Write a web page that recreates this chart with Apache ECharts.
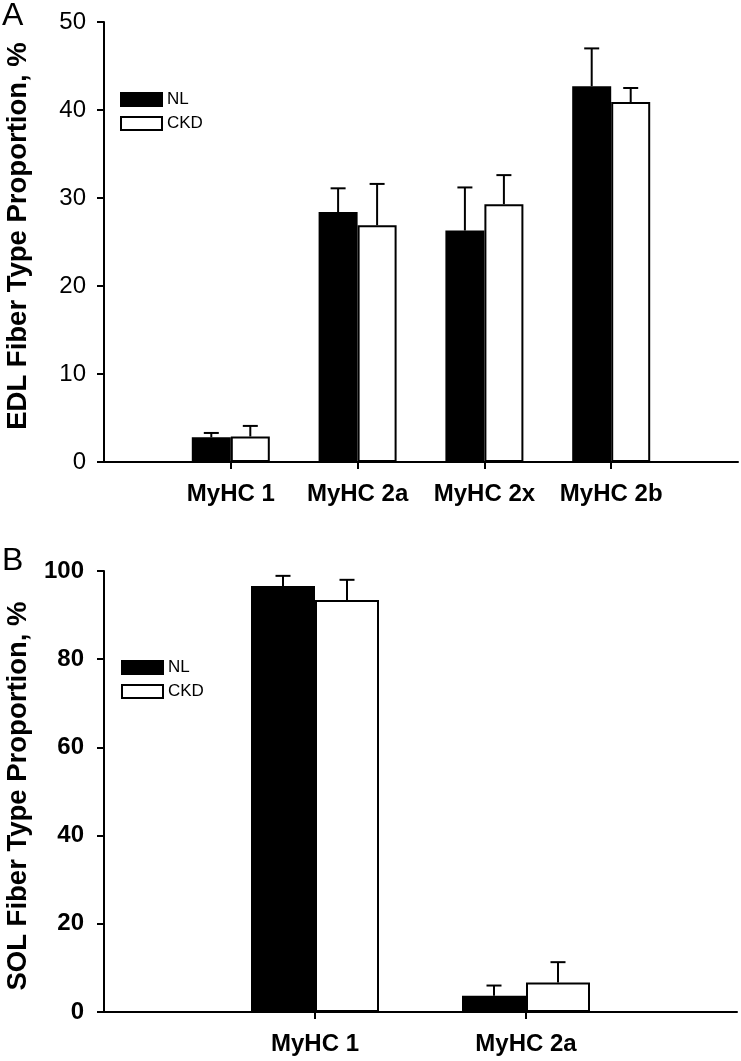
<!DOCTYPE html>
<html>
<head>
<meta charset="utf-8">
<script src="https://cdn.jsdelivr.net/npm/echarts@6/dist/echarts.min.js"></script>
<style>
  html, body { margin: 0; padding: 0; background: #fff; }
  #chart { width: 741px; height: 1061px; }
</style>
</head>
<body>
<div id="chart"></div>
<script>
// panel A: EDL
const edlCats = ['MyHC 1', 'MyHC 2a', 'MyHC 2x', 'MyHC 2b']
const edlNL = [2.8, 28.4, 26.3, 42.7]
const edlNLErr = [3.3, 31.1, 31.2, 47.0]
const edlCKD = [2.9, 26.9, 29.3, 40.9]
const edlCKDErr = [4.1, 31.6, 32.6, 42.5]
const edlTicks = [0, 10, 20, 30, 40, 50]

// panel B: SOL
const solCats = ['MyHC 1', 'MyHC 2a']
const solNL = [96.6, 3.7]
const solNLErr = [98.9, 6.0]
const solCKD = [93.4, 6.7]
const solCKDErr = [98.0, 11.3]
const solTicks = [0, 20, 40, 60, 80, 100]

const FONT = '"Liberation Sans", Arial, Helvetica, sans-serif'
const chart = echarts.init(document.getElementById('chart'))

const pos = (arr) => arr.map((_, i) => i + 1)
const pairs = (vals) => vals.map((v, i) => [i + 1, v])
const triples = (vals, errs) => vals.map((v, i) => [i + 1, v, errs[i]])

function errorBars(side, barW) {
  return function (params, api) {
    const p0 = api.coord([api.value(0), api.value(1)])
    const p1 = api.coord([api.value(0), api.value(2)])
    const x = p0[0] + side * barW / 2
    const st = { stroke: '#000', lineWidth: 2 }
    return {
      type: 'group',
      children: [
        { type: 'line', shape: { x1: x, y1: p0[1], x2: x, y2: p1[1] }, style: st },
        { type: 'line', shape: { x1: x - 7.5, y1: p1[1], x2: x + 7.5, y2: p1[1] }, style: st },
      ],
    }
  }
}

function xAxisFor(idx, cats, max) {
  return {
    gridIndex: idx,
    type: 'value',
    min: 0,
    max: max,
    interval: 1,
    splitLine: { show: false },
    axisLine: { lineStyle: { color: '#000', width: 2 } },
    axisTick: { customValues: pos(cats), length: 7, lineStyle: { color: '#000', width: 2 } },
    axisLabel: {
      customValues: pos(cats),
      formatter: (v) => cats[Math.round(v) - 1] || '',
      color: '#000', fontFamily: FONT, fontWeight: 'bold', fontSize: 24, margin: 20,
    },
  }
}

function yAxisFor(idx, ticks, bold) {
  return {
    gridIndex: idx,
    type: 'value',
    min: ticks[0],
    max: ticks[ticks.length - 1],
    interval: ticks[1] - ticks[0],
    splitLine: { show: false },
    axisLine: { show: true, lineStyle: { color: '#000', width: 2 } },
    axisTick: { show: true, length: 7, lineStyle: { color: '#000', width: 2 } },
    axisLabel: {
      color: '#000', fontFamily: FONT, fontSize: 24,
      fontWeight: bold ? 'bold' : 'normal', margin: bold ? 20 : 18,
    },
  }
}

function barSeries(idx, name, vals, fill, barW) {
  return {
    name: name,
    type: 'bar',
    xAxisIndex: idx,
    yAxisIndex: idx,
    data: pairs(vals),
    barWidth: barW,
    barGap: '0%',
    itemStyle: { color: fill, borderColor: '#000', borderWidth: 2 },
    z: 2,
  }
}

function errSeries(idx, vals, errs, side, barW) {
  return {
    type: 'custom',
    xAxisIndex: idx,
    yAxisIndex: idx,
    data: triples(vals, errs),
    renderItem: errorBars(side, barW),
    z: 3,
  }
}

function legendFor(left, top) {
  return {
    data: ['NL', 'CKD'],
    orient: 'vertical',
    left: left,
    top: top,
    icon: 'rect',
    itemWidth: 41,
    itemHeight: 13,
    itemGap: 7,
    selectedMode: false,
    textStyle: { color: '#000', fontFamily: FONT, fontSize: 17 },
  }
}

const titleStyle = { fill: '#000', font: 'bold 27.5px ' + FONT, textAlign: 'center', textVerticalAlign: 'middle' }

chart.setOption({
  animation: false,
  grid: [
    { left: 104, top: 22, right: 3, bottom: 599 },
    { left: 104, top: 571, right: 4, bottom: 49 },
  ],
  xAxis: [xAxisFor(0, edlCats, 5), xAxisFor(1, solCats, 3)],
  yAxis: [yAxisFor(0, edlTicks, false), yAxisFor(1, solTicks, true)],
  legend: [legendFor(115, 86), legendFor(116, 654)],
  series: [
    barSeries(0, 'NL', edlNL, '#000', 39),
    barSeries(0, 'CKD', edlCKD, '#fff', 39),
    errSeries(0, edlNL, edlNLErr, -1, 39),
    errSeries(0, edlCKD, edlCKDErr, 1, 39),
    barSeries(1, 'NL', solNL, '#000', 64),
    barSeries(1, 'CKD', solCKD, '#fff', 64),
    errSeries(1, solNL, solNLErr, -1, 64),
    errSeries(1, solCKD, solCKDErr, 1, 64),
  ],
  graphic: [
    { type: 'text', left: 2, top: 0, style: { text: 'A', fill: '#000', font: '32px ' + FONT } },
    { type: 'text', left: 2, top: 545, style: { text: 'B', fill: '#000', font: '32px ' + FONT } },
    { type: 'text', x: 18, y: 236, rotation: Math.PI / 2, style: Object.assign({ text: 'EDL Fiber Type Proportion, %' }, titleStyle) },
    { type: 'text', x: 18, y: 796, rotation: Math.PI / 2, style: Object.assign({ text: 'SOL Fiber Type Proportion, %' }, titleStyle) },
  ],
})
</script>
</body>
</html>
